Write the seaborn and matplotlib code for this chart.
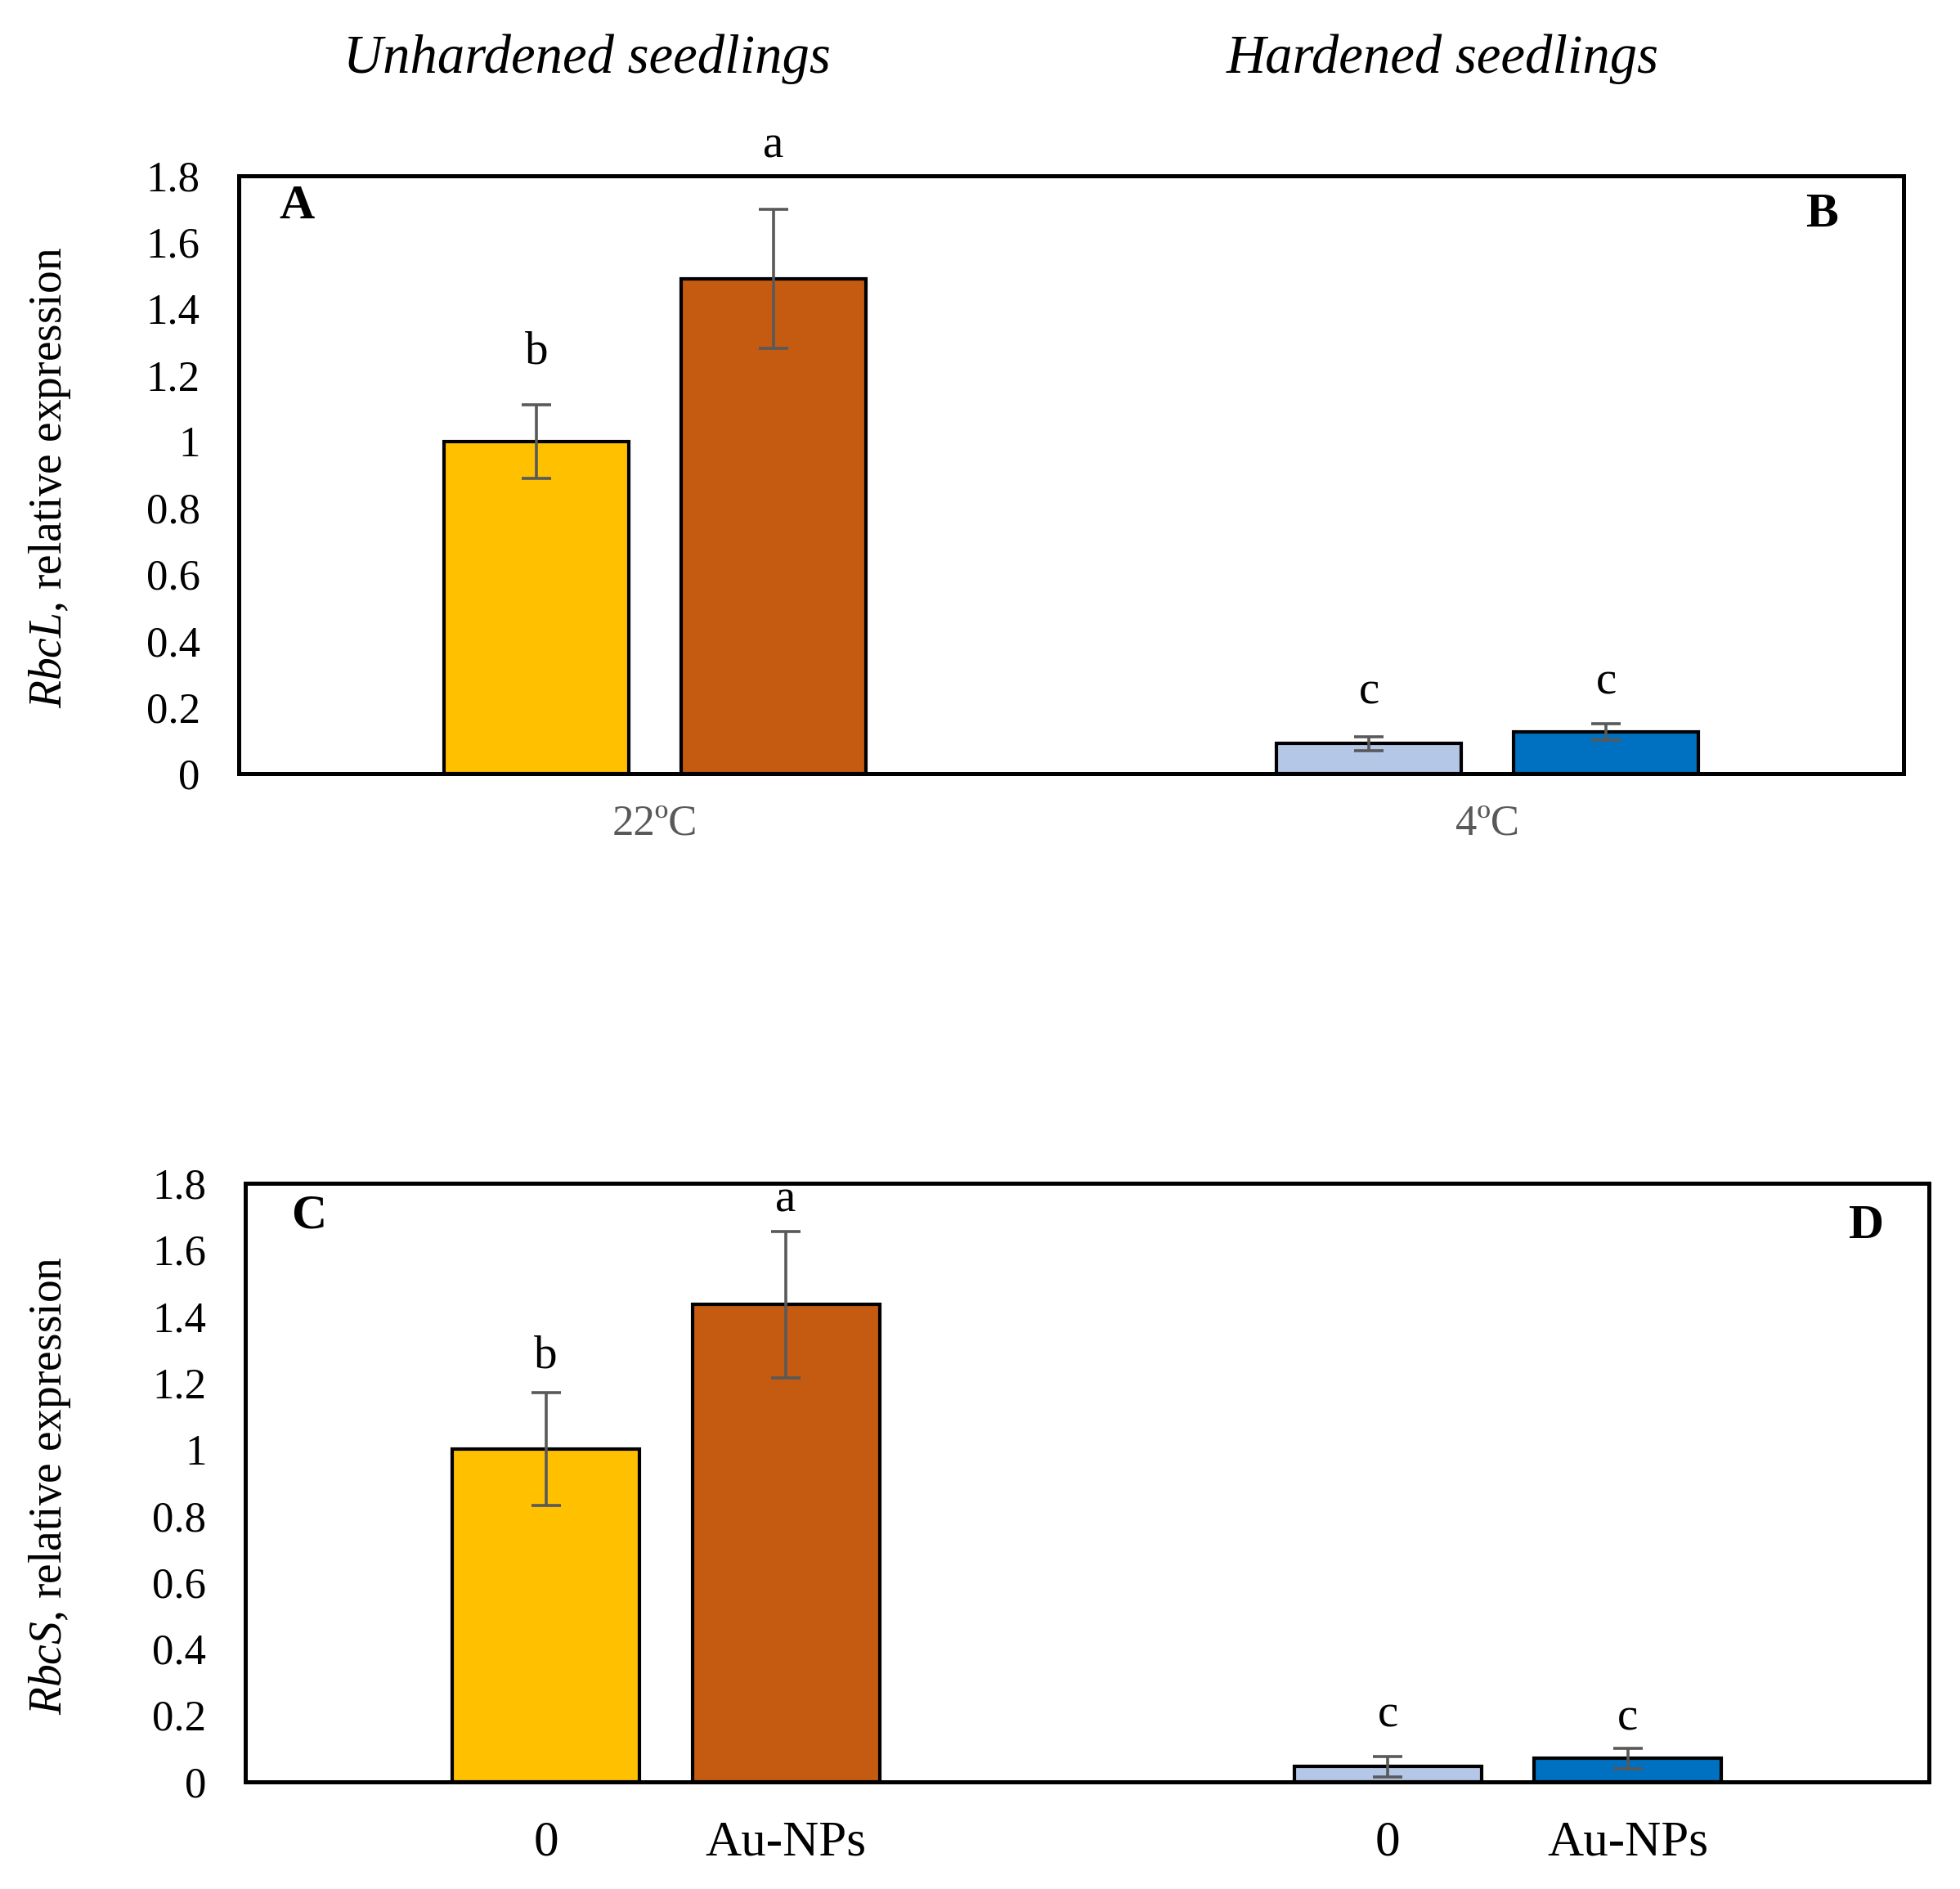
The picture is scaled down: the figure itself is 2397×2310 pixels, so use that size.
import matplotlib
matplotlib.use("Agg")
import matplotlib.pyplot as plt
import seaborn as sns
import pandas as pd
import numpy as np

# ---------------- data ----------------
groups = ["22ºC", "4ºC"]
treatments = ["0", "Au-NPs"]
rbcl_mean = [1.00, 1.49, 0.09, 0.125]
rbcl_err = [0.11, 0.21, 0.02, 0.025]
rbcs_mean = [1.00, 1.435, 0.045, 0.07]
rbcs_err = [0.17, 0.22, 0.03, 0.03]
rbcl_letters = ["b", "a", "c", "c"]
rbcs_letters = ["b", "a", "c", "c"]
rbcl_letter_y = [1.27, 1.89, 0.245, 0.275]
rbcs_letter_y = [1.28, 1.75, 0.20, 0.19]
yticks = [0, 0.2, 0.4, 0.6, 0.8, 1.0, 1.2, 1.4, 1.6, 1.8]
colors = {("22ºC", "0"): "#FFC000", ("22ºC", "Au-NPs"): "#C55A11",
          ("4ºC", "0"): "#B4C7E7", ("4ºC", "Au-NPs"): "#0070C0"}

sns.set_theme(style="white")
plt.rcParams["font.family"] = ["Liberation Serif", "DejaVu Serif"]
plt.rcParams["mathtext.fontset"] = "custom"
plt.rcParams["mathtext.rm"] = "Liberation Serif"
plt.rcParams["mathtext.it"] = "Liberation Serif:italic"
plt.rcParams["text.color"] = "black"
plt.rcParams["axes.labelcolor"] = "black"
plt.rcParams["xtick.color"] = "black"
plt.rcParams["ytick.color"] = "black"

fig = plt.figure(figsize=(23.97, 23.10), dpi=100)
ax1 = fig.add_axes([0.1218, 0.5905, 0.9713 - 0.1218, 0.9069 - 0.5905])
ax2 = fig.add_axes([0.125, 0.0568, 0.984 - 0.125, 0.3736 - 0.0568])


def make_df(means):
    rows = []
    i = 0
    for g in groups:
        for t in treatments:
            rows.append({"temp": g, "treat": t, "val": means[i]})
            i += 1
    return pd.DataFrame(rows)


def draw(ax, means, errs, letters, letter_y):
    df = make_df(means)
    sns.barplot(data=df, x="temp", y="val", hue="treat", order=groups,
                hue_order=treatments, width=0.57, gap=0.22, dodge=True,
                errorbar=None, edgecolor="black", linewidth=3.0,
                legend=False, ax=ax)
    centers = []
    for hi, cont in enumerate(ax.containers):
        for gi, bar in enumerate(cont):
            bar.set_facecolor(colors[(groups[gi], treatments[hi])])
            bar.set_edgecolor("black")
            cx = bar.get_x() + bar.get_width() / 2
            idx = gi * len(treatments) + hi
            centers.append((idx, cx))
    centers = [c for _, c in sorted(centers)]
    ax.errorbar(centers, means, yerr=errs, fmt="none", ecolor="#595959",
                elinewidth=2.6, capsize=13, capthick=2.6, zorder=5)
    for cx, lt, ly in zip(centers, letters, letter_y):
        ax.text(cx, ly, lt, ha="center", va="center", fontsize=41,
                color="black", clip_on=False)
    ax.set_ylim(0, 1.8)
    ax.set_xlim(-0.5, 1.5)
    ax.set_yticks(yticks)
    ax.set_yticklabels([f"{v:g}" for v in yticks], fontsize=38)
    ax.set_xlabel("")
    ax.set_ylabel("")
    for sp in ax.spines.values():
        sp.set_visible(True)
        sp.set_color("black")
        sp.set_linewidth(3.6)
    ax.tick_params(axis="y", length=0, pad=34, colors="black")
    ax.tick_params(axis="x", length=0)
    return centers


draw(ax1, rbcl_mean, rbcl_err, rbcl_letters, rbcl_letter_y)
ax1.set_xticks([0, 1])
ax1.set_xticklabels(groups, fontsize=38, color="#595959")
ax1.tick_params(axis="x", pad=27)

c2 = draw(ax2, rbcs_mean, rbcs_err, rbcs_letters, rbcs_letter_y)
ax2.set_xticks(c2)
ax2.set_xticklabels(treatments * len(groups), fontsize=44, color="black")
ax2.tick_params(axis="x", pad=34)

# panel letters
ax1.text(0.035, 0.948, "A", transform=ax1.transAxes, fontsize=43,
         fontweight="bold", ha="center", va="center", color="black")
ax1.text(0.951, 0.935, "B", transform=ax1.transAxes, fontsize=43,
         fontweight="bold", ha="center", va="center", color="black")
ax2.text(0.038, 0.944, "C", transform=ax2.transAxes, fontsize=43,
         fontweight="bold", ha="center", va="center", color="black")
ax2.text(0.963, 0.927, "D", transform=ax2.transAxes, fontsize=43,
         fontweight="bold", ha="center", va="center", color="black")

# column titles
fig.text(0.2994, 0.9688, "Unhardened seedlings", fontsize=48, style="italic",
         ha="center", va="center", color="black")
fig.text(0.7359, 0.9688, "Hardened seedlings", fontsize=48, style="italic",
         ha="center", va="center", color="black")

# y labels
fig.text(0.0256, 0.747, r"$\mathit{RbcL}$, relative expression", fontsize=40,
         rotation=90, ha="center", va="center", color="black")
fig.text(0.0256, 0.2138, r"$\mathit{RbcS}$, relative expression", fontsize=40,
         rotation=90, ha="center", va="center", color="black")

fig.savefig("out.png", dpi=100, facecolor="white")
